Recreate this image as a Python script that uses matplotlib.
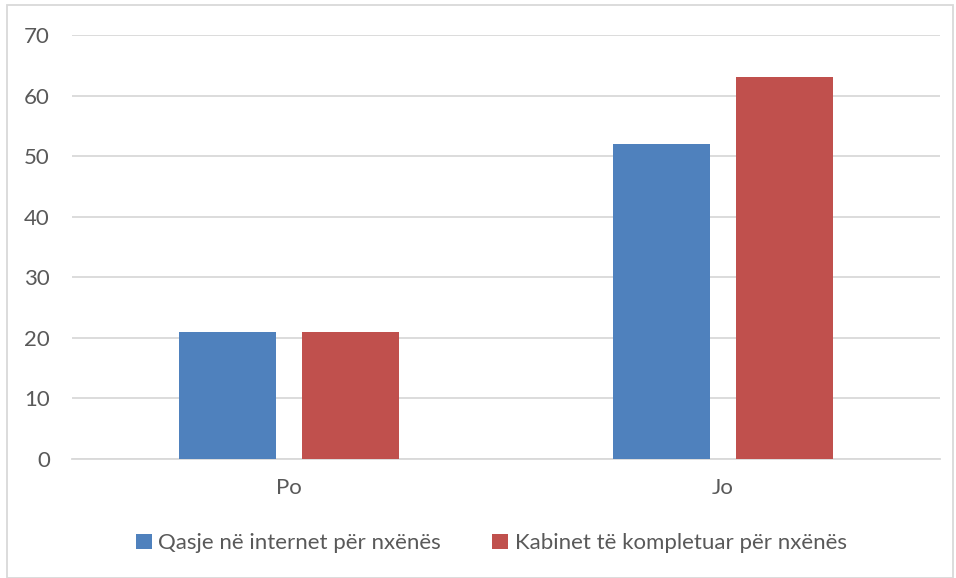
import matplotlib.pyplot as plt
from matplotlib.patches import Rectangle
import numpy as np

plt.rcParams['font.family'] = ['Lato', 'DejaVu Sans']

categories = ["Po", "Jo"]
series_names = ["Qasje në internet për nxënës", "Kabinet të kompletuar për nxënës"]
internet = [21, 52]
kabinet = [21, 63]
colors = ["#4f81bd", "#c0504d"]
text_color = "#595959"
grid_color = "#d9d9d9"

fig = plt.figure(figsize=(9.56, 5.78), dpi=100)
ax = fig.add_axes([0.0753, 0.2059, 0.908, 0.7336])

x = np.arange(len(categories))
w = 0.224
off = 0.142
ax.bar(x - off, internet, w, color=colors[0], label=series_names[0], zorder=3)
ax.bar(x + off, kabinet, w, color=colors[1], label=series_names[1], zorder=3)

ax.set_xlim(-0.5, 1.5)
ax.set_ylim(0, 70)
ax.set_yticks(range(0, 71, 10))
ax.set_xticks(x)
ax.set_xticklabels(categories)
ax.yaxis.grid(True, color=grid_color, linewidth=1.3, zorder=0)
ax.set_axisbelow(True)
for s in ax.spines.values():
    s.set_visible(False)
ax.tick_params(axis='both', length=0, colors=text_color, labelsize=16)
ax.tick_params(axis='y', pad=16)
ax.tick_params(axis='x', pad=14)
ax.axhline(0, color=grid_color, linewidth=1.3, zorder=1, clip_on=False)

fig.legend(loc='center', bbox_to_anchor=(0.514, 0.06), ncol=2, frameon=False,
           fontsize=16, labelcolor=text_color, handlelength=0.72, handleheight=0.72,
           handletextpad=0.3, columnspacing=2.3)

fig.patches.append(Rectangle((0.007, 0.0), 0.99, 0.991, transform=fig.transFigure,
                             fill=False, edgecolor=grid_color, linewidth=1.3))

fig.savefig("out.png", dpi=100)
